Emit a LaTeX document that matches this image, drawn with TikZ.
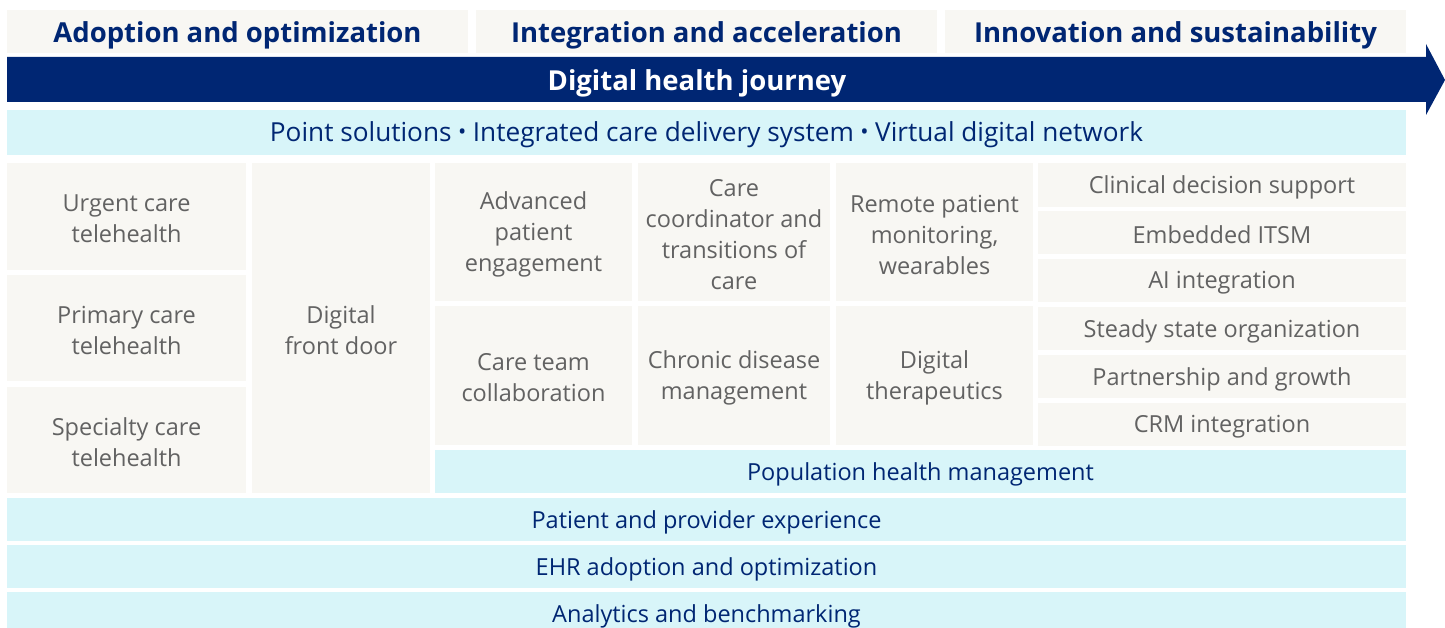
\documentclass[tikz,border=0pt]{standalone}
\usepackage{fontspec}
\setmainfont{Open Sans}
\definecolor{navy}{HTML}{002673}
\definecolor{beige}{HTML}{F8F7F3}
\definecolor{cyanband}{HTML}{D8F5F9}
\definecolor{graytxt}{HTML}{626262}
% \cell{name}{x1}{y1}{x2}{y2}{fill colour}{text style}{text}
\newcommand\cell[8]{\fill[#6] (#2,#3) rectangle (#4,#5);
  \node[#7] (#1) at ({((#2)+(#4))/2},{((#3)+(#5))/2}) {#8};}
\newcommand\sepdot{\hspace{6.5pt}{\fontsize{22}{22}\selectfont\raisebox{2pt}{•}}\hspace{6.5pt}}
\begin{document}
\begin{tikzpicture}[x=1pt,y=-1pt,
  base/.style={inner sep=0pt, outer sep=0pt, align=center},
  head/.style={base, yshift=-3.5pt, text=navy, font=\fontsize{27.5}{30}\selectfont\bfseries},
  tile/.style={base, yshift=-2.5pt, text=graytxt, font=\fontsize{23.5}{31}\selectfont},
  band/.style={base, yshift=-2.5pt, text=navy, font=\fontsize{23.5}{31}\selectfont},
  bigband/.style={band, font=\fontsize{26.2}{31}\selectfont},
  journeytxt/.style={base, yshift=-3pt, text=white, font=\fontsize{27.5}{30}\selectfont\bfseries}]
\useasboundingbox (0,0) rectangle (1445,628);
\clip (0,0) rectangle (1445,628);
% headers
\cell{h1}{7}{10}{468}{53}{beige}{head}{Adoption and optimization}
\cell{h2}{476}{10}{937}{53}{beige}{head}{Integration and acceleration}
\cell{h3}{945}{10}{1406}{53}{beige}{head}{Innovation and sustainability}
% journey arrow
\fill[navy] (7,57) -- (1426,57) -- (1426,44) -- (1445,80) -- (1426,115) -- (1426,102) -- (7,102) -- cycle;
\node[journeytxt] (journey) at (697,80) {Digital health journey};
% point solutions
\cell{ps}{7}{110}{1406}{155}{cyanband}{bigband}{Point solutions\sepdot Integrated care delivery system\sepdot Virtual digital network}
% left column
\cell{urgent}{7}{163}{246}{270}{beige}{tile}{Urgent care\\telehealth}
\cell{primary}{7}{275}{246}{381}{beige}{tile}{Primary care\\telehealth}
\cell{specialty}{7}{387}{246}{493}{beige}{tile}{Specialty care\\telehealth}
\cell{front}{252}{163}{430}{493}{beige}{tile}{Digital\\front door}
% middle grid
\cell{adv}{435}{163}{632}{301}{beige}{tile}{Advanced\\patient\\engagement}
\cell{coord}{638}{163}{830}{301}{beige}{tile}{Care\\coordinator and\\transitions of\\care}
\cell{remote}{836}{163}{1033}{301}{beige}{tile}{Remote patient\\monitoring,\\wearables}
\cell{collab}{435}{306}{632}{445}{beige}{tile}{Care team\\collaboration}
\cell{chronic}{638}{306}{830}{445}{beige}{tile}{Chronic disease\\management}
\cell{thera}{836}{306}{1033}{445}{beige}{tile}{Digital\\therapeutics}
% right column
\cell{cds}{1038}{163}{1406}{207}{beige}{tile}{Clinical decision support}
\cell{itsm}{1038}{211}{1406}{254}{beige}{tile}{Embedded ITSM}
\cell{ai}{1038}{259}{1406}{302}{beige}{tile}{AI integration}
\cell{steady}{1038}{307}{1406}{350}{beige}{tile}{Steady state organization}
\cell{partner}{1038}{355}{1406}{398}{beige}{tile}{Partnership and growth}
\cell{crm}{1038}{403}{1406}{446}{beige}{tile}{CRM integration}
% bands
\cell{pop}{435}{450}{1406}{493}{cyanband}{band}{Population health management}
\cell{ppe}{7}{498}{1406}{541}{cyanband}{band}{Patient and provider experience}
\cell{ehr}{7}{545}{1406}{588}{cyanband}{band}{EHR adoption and optimization}
\cell{ana}{7}{592}{1406}{635}{cyanband}{band}{Analytics and benchmarking}
\end{tikzpicture}
\end{document}
